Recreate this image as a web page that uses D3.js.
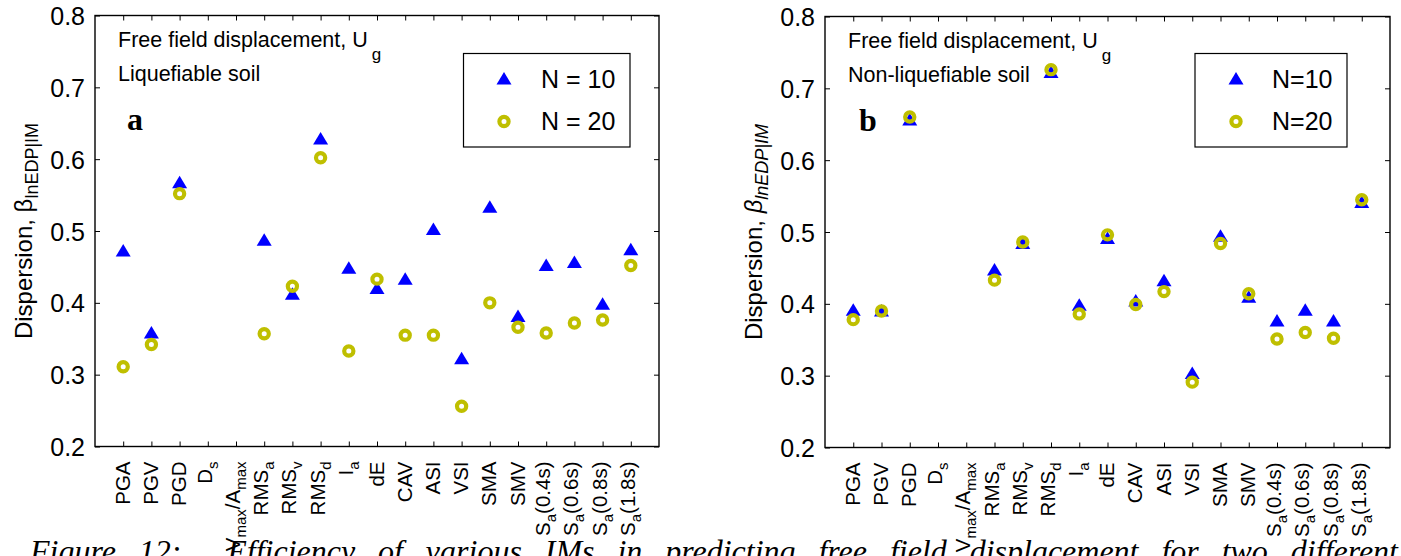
<!DOCTYPE html>
<html><head><meta charset="utf-8">
<script src="https://cdn.jsdelivr.net/npm/d3@7"></script>
<style>
html,body{margin:0;padding:0;background:#fff;overflow:hidden;}
text{font-family:Arial,"Liberation Sans",Helvetica,sans-serif;fill:#000;}
</style></head>
<body>
<svg id="chart" width="1401" height="556"></svg>
<script>
// ---- data ----
const categories = ["PGA","PGV","PGD","D_s","V_max/A_max","RMS_a","RMS_v","RMS_d","I_a","dE","CAV","ASI","VSI","SMA","SMV","S_a(0.4s)","S_a(0.6s)","S_a(0.8s)","S_a(1.8s)"];
const yTicks = [0.2,0.3,0.4,0.5,0.6,0.7,0.8];
const liqN10 = [0.472,0.358,0.567,null,null,0.487,0.412,0.628,0.448,0.420,0.433,0.502,0.322,0.533,0.381,0.452,0.456,0.398,0.474];
const liqN20 = [0.311,0.342,0.552,null,null,0.357,0.423,0.602,0.333,0.433,0.355,0.355,0.256,0.400,0.366,0.358,0.372,0.376,0.452];
const nonN10 = [0.391,0.390,0.656,null,null,0.447,0.484,0.722,0.398,0.491,0.404,0.432,0.303,0.494,0.409,0.376,0.391,0.376,0.541];
const nonN20 = [0.378,0.390,0.660,null,null,0.433,0.486,0.726,0.386,0.496,0.399,0.417,0.291,0.484,0.414,0.351,0.360,0.352,0.545];
const legendLeft = ["N = 10","N = 20"];
const legendRight = ["N=10","N=20"];
const caption = "Figure 12:  Efficiency of various IMs in predicting free field displacement for two different";

const svg = d3.select("#chart");
const BLUE = "#0000ff", YEL = "#bfbf00";
const triPath = "M0,-7L7.5,5.5L-7.5,5.5Z";

function addRich(textSel, str, subSize){
  const parts = [];
  const re = /_([A-Za-z]+)/g;
  let last = 0, m;
  while((m = re.exec(str))){
    if(m.index > last) parts.push({t:str.slice(last,m.index), sub:false});
    parts.push({t:m[1], sub:true});
    last = re.lastIndex;
  }
  if(last < str.length) parts.push({t:str.slice(last), sub:false});
  let shifted = false;
  parts.forEach(p=>{
    const ts = textSel.append("tspan").text(p.t);
    if(p.sub && !shifted){ ts.attr("dy", 6).style("font-size", subSize+"px"); shifted = true; }
    else if(p.sub){ ts.style("font-size", subSize+"px"); }
    else if(shifted){ ts.attr("dy", -6); shifted = false; }
  });
}

function panel(o){
  const x = d3.scaleLinear().domain([0,20]).range([o.left,o.right]);
  const y = d3.scaleLinear().domain([0.2,0.8]).range([o.bottom,o.top]);
  const g = svg.append("g");
  const tk = 5;
  const xi = d3.range(1, categories.length+1);
  g.append("g").attr("transform",`translate(0,${o.bottom})`)
    .call(d3.axisBottom(x).tickValues(xi).tickSize(-tk).tickFormat(""))
    .call(s=>{s.select(".domain").remove(); s.selectAll("line").attr("stroke","#000");});
  g.append("g").attr("transform",`translate(0,${o.top})`)
    .call(d3.axisTop(x).tickValues(xi).tickSize(-tk).tickFormat(""))
    .call(s=>{s.select(".domain").remove(); s.selectAll("line").attr("stroke","#000");});
  g.append("g").attr("transform",`translate(${o.left},0)`)
    .call(d3.axisLeft(y).tickValues(yTicks).tickSize(-tk).tickPadding(10).tickFormat(d3.format(".1f")))
    .call(s=>{s.select(".domain").remove(); s.selectAll("line").attr("stroke","#000");
      s.selectAll("text").style("font-family","Arial, 'Liberation Sans', sans-serif").style("font-size","25px").attr("fill","#000").attr("dy","0.36em");});
  g.append("g").attr("transform",`translate(${o.right},0)`)
    .call(d3.axisRight(y).tickValues(yTicks).tickSize(-tk).tickFormat(""))
    .call(s=>{s.select(".domain").remove(); s.selectAll("line").attr("stroke","#000");});
  g.append("rect").attr("x",o.left).attr("y",o.top).attr("width",o.right-o.left).attr("height",o.bottom-o.top)
    .attr("fill","none").attr("stroke","#000").attr("stroke-width",1.4);

  categories.forEach((c,i)=>{
    const gg = g.append("g").attr("transform",`translate(${x(i+1)},${o.bottom+15}) rotate(-90)`);
    const t = gg.append("text").attr("text-anchor","end").style("font-size","20.5px");
    addRich(t, c, 15);
    const bb = t.node().getBBox();
    t.attr("y", -(bb.y + bb.height/2) - 1);
  });

  const yl = g.append("text").attr("transform",`translate(${o.ylabX},${(o.top+o.bottom)/2}) rotate(-90)`)
    .attr("text-anchor","middle").style("font-size","24px");
  yl.append("tspan").text("Dispersion, ");
  yl.append("tspan").text("β").style("font-style", o.italic ? "italic":"normal");
  yl.append("tspan").text("lnEDP|IM").attr("dy",6).style("font-size","18px").style("font-style", o.italic ? "italic":"normal");

  const a1 = g.append("text").attr("x",o.left+23).attr("y",o.top+31).style("font-size","21.5px");
  a1.append("tspan").text("Free field displacement, U");
  a1.append("tspan").text("g").attr("dx",4).attr("dy",13).style("font-size","17px");
  g.append("text").attr("x",o.left+23).attr("y",o.top+65).style("font-size","21.5px").text(o.soil);
  g.append("text").attr("x",o.left+o.letterDx).attr("y",o.top+114)
    .style("font-family","'Liberation Serif','Times New Roman',serif").style("font-weight","bold").style("font-size","32px").text(o.letter);

  const n10 = o.d10.map((v,i)=>({i,v})).filter(d=>d.v!=null);
  const n20 = o.d20.map((v,i)=>({i,v})).filter(d=>d.v!=null);
  g.selectAll("path.tri").data(n10).join("path").attr("class","tri")
    .attr("d",triPath).attr("transform",d=>`translate(${x(d.i+1)},${y(d.v)})`).attr("fill",BLUE);
  g.selectAll("circle.c20").data(n20).join("circle").attr("class","c20")
    .attr("cx",d=>x(d.i+1)).attr("cy",d=>y(d.v)).attr("r",4.6)
    .attr("fill","none").attr("stroke",YEL).attr("stroke-width",4.2);

  const lg = g.append("g");
  lg.append("rect").attr("x",o.lx0).attr("y",53.5).attr("width",o.lx1-o.lx0).attr("height",93.5)
    .attr("fill","#fff").attr("stroke","#000").attr("stroke-width",1.2);
  lg.append("path").attr("d",triPath).attr("transform",`translate(${o.lmx},79)`).attr("fill",BLUE);
  lg.append("circle").attr("cx",o.lmx).attr("cy",121.5).attr("r",4.6).attr("fill","none").attr("stroke",YEL).attr("stroke-width",4.2);
  lg.append("text").attr("x",o.ltx).attr("y",88).style("font-size","25px").text(o.legend[0]);
  lg.append("text").attr("x",o.ltx).attr("y",130).style("font-size","25px").text(o.legend[1]);
}

// caption drawn first so the axis labels sit above it
const cap = svg.append("text").attr("x",30).attr("y",562)
  .style("font-family","'Liberation Serif','Times New Roman',serif").style("font-style","italic").style("font-size","32px")
  .attr("xml:space","preserve").text(caption);
{
  const w = cap.node().getComputedTextLength();
  const spaces = (caption.match(/ /g)||[]).length;
  const ws = Math.max(0, (1398 - 30 - w) / spaces);
  cap.style("word-spacing", ws + "px");
}

panel({left:95,right:659,top:15.5,bottom:446.5,ylabX:32,italic:false,soil:"Liquefiable soil",letter:"a",letterDx:32,
  d10:liqN10,d20:liqN20,legend:legendLeft,lx0:463.5,lx1:630,lmx:504,ltx:541});
panel({left:825,right:1390,top:16.5,bottom:447.5,ylabX:762,italic:true,soil:"Non-liquefiable soil",letter:"b",letterDx:34,
  d10:nonN10,d20:nonN20,legend:legendRight,lx0:1195,lx1:1347,lmx:1236,ltx:1272});
</script>
</body></html>
